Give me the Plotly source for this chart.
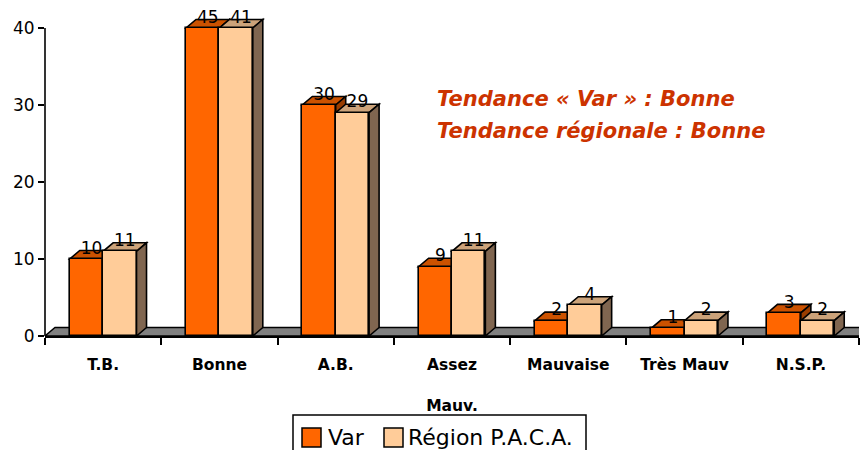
import plotly.graph_objects as go

# ---------------- data ----------------
categories = ["T.B.", "Bonne", "A.B.", "Assez<br><br>Mauv.", "Mauvaise", "Très Mauv", "N.S.P."]
var_values = [10, 45, 30, 9, 2, 1, 3]
region_values = [11, 41, 29, 11, 4, 2, 2]
series_names = ["Var", "Région P.A.C.A."]
y_ticks = [0, 10, 20, 30, 40]
note_lines = ["Tendance « Var » : Bonne", "Tendance régionale : Bonne"]

# ---------------- style ----------------
W, H = 863, 450
ML, MR, MT, MB = 45, 4, 16, 114
PLOT_W = W - ML - MR
PLOT_H = H - MT - MB
AXIS_MAX = 40
PX_PER_UNIT = 7.7
YMAX = PLOT_H / PX_PER_UNIT
N = len(categories)
PX_PER_CAT = PLOT_W / N

BAR_W = 0.287                    # width of one bar in category units
DX = 10 / PX_PER_CAT             # 3D depth offset (x, data units)
DY = 8.5 / PX_PER_UNIT           # 3D depth offset (y, data units)
LABEL_LIFT = 9.5 / PX_PER_UNIT

FRONT = ["#FF6600", "#FFCC99"]
TOP = ["#CC5200", "#CCA37A"]
SIDE = ["#993D00", "#806650"]
EDGE = "black"
FONT = "DejaVu Sans"


def px_x(px):
    return (px - ML) / PLOT_W


def px_y(py):
    return (H - MB - py) / PLOT_H


xs = list(range(N))
series = [var_values, region_values]
shown = [[min(v, AXIS_MAX) for v in s] for s in series]

fig = go.Figure()

# front faces (real bars)
for k in range(2):
    fig.add_trace(go.Bar(
        x=xs, y=shown[k], name=series_names[k],
        offset=-BAR_W if k == 0 else 0, width=BAR_W,
        marker=dict(color=FRONT[k], line=dict(color=EDGE, width=1.6)),
        hoverinfo="skip", showlegend=False,
    ))

# value labels on the top faces
for k in range(2):
    fig.add_trace(go.Scatter(
        x=[i + (-BAR_W / 2 if k == 0 else BAR_W / 2) + DX / 2 for i in xs],
        y=[v + LABEL_LIFT for v in shown[k]],
        text=[str(v) for v in series[k]],
        mode="text", textposition="middle center",
        textfont=dict(family=FONT, size=17, color="black"),
        showlegend=False, cliponaxis=False, hoverinfo="skip",
    ))

shapes = []


def poly(pts):
    return "M" + " L".join(f"{x:.4f},{y:.4f}" for x, y in pts) + " Z"


# floor
x0, x1 = -0.5, N - 0.5
shapes.append(dict(type="path", xref="x", yref="y", layer="below",
                   path=poly([(x0, 0), (x1, 0), (x1 + DX, DY), (x0 + DX, DY)]),
                   fillcolor="#808080", line=dict(color=EDGE, width=1.4)))

# top and side faces (painter's order: Var then Région, all below the fronts)
for i in xs:
    for k in range(2):
        v = shown[k][i]
        left = i - BAR_W if k == 0 else i
        right = left + BAR_W
        shapes.append(dict(type="path", xref="x", yref="y", layer="below",
                           path=poly([(left, v), (right, v), (right + DX, v + DY), (left + DX, v + DY)]),
                           fillcolor=TOP[k], line=dict(color=EDGE, width=1.6)))
        shapes.append(dict(type="path", xref="x", yref="y", layer="below",
                           path=poly([(right, 0), (right, v), (right + DX, v + DY), (right + DX, DY)]),
                           fillcolor=SIDE[k], line=dict(color=EDGE, width=1.6)))

# y axis line from 0 to the top tick only
shapes.append(dict(type="line", xref="paper", yref="paper", x0=0, x1=0,
                   y0=0, y1=AXIS_MAX / YMAX, line=dict(color=EDGE, width=1.6)))

annotations = []
for j, line in enumerate(note_lines):
    annotations.append(dict(
        xref="paper", yref="paper", x=px_x(435), y=px_y(99 + 32 * j),
        xanchor="left", yanchor="middle", showarrow=False, text=f"<b><i>{line}</i></b>",
        font=dict(family=FONT, size=21, color="#CC3300"),
    ))

# legend (drawn box, swatches and labels)
shapes.append(dict(type="rect", xref="paper", yref="paper",
                   x0=px_x(293), x1=px_x(586), y0=px_y(415), y1=px_y(470),
                   fillcolor="white", line=dict(color=EDGE, width=1.5)))
legend_swatch_px = [302, 384]
legend_text_px = [326, 406]
for k in range(2):
    shapes.append(dict(type="rect", xref="paper", yref="paper",
                       x0=px_x(legend_swatch_px[k]), x1=px_x(legend_swatch_px[k] + 19),
                       y0=px_y(428), y1=px_y(447),
                       fillcolor=FRONT[k], line=dict(color=EDGE, width=1.5)))
    annotations.append(dict(
        xref="paper", yref="paper", x=px_x(legend_text_px[k]), y=px_y(437),
        xanchor="left", yanchor="middle", showarrow=False, text=series_names[k],
        font=dict(family=FONT, size=22, color="black"),
    ))

fig.update_layout(
    width=W, height=H, margin=dict(l=ML, r=MR, t=MT, b=MB, autoexpand=False),
    paper_bgcolor="white", plot_bgcolor="white",
    barmode="overlay", bargap=0,
    shapes=shapes, annotations=annotations,
    showlegend=False,
    font=dict(family=FONT, color="black"),
    xaxis=dict(range=[-0.5, N - 0.5], tickmode="array", tickvals=xs, ticktext=categories,
               ticks="outside", ticklen=14, tickcolor="rgba(0,0,0,0)",
               tickfont=dict(family=FONT, size=15.5, color="black", weight="bold"),
               showline=True, linecolor=EDGE, linewidth=1.6, showgrid=False, zeroline=False,
               automargin=False,
               minor=dict(tickmode="array", tickvals=[i - 0.5 for i in range(N + 1)],
                          ticks="outside", ticklen=7, tickcolor=EDGE, tickwidth=1.5, showgrid=False),
               fixedrange=True),
    yaxis=dict(range=[0, YMAX], tickmode="array", tickvals=y_ticks,
               ticks="outside", ticklen=6, tickcolor=EDGE, tickwidth=1.5,
               tickfont=dict(family=FONT, size=17, color="black"),
               showline=False, showgrid=False, zeroline=False, automargin=False,
               fixedrange=True),
)

fig.write_html("out.html", config={"displayModeBar": False},
               post_script="document.body.style.margin='0px';")
